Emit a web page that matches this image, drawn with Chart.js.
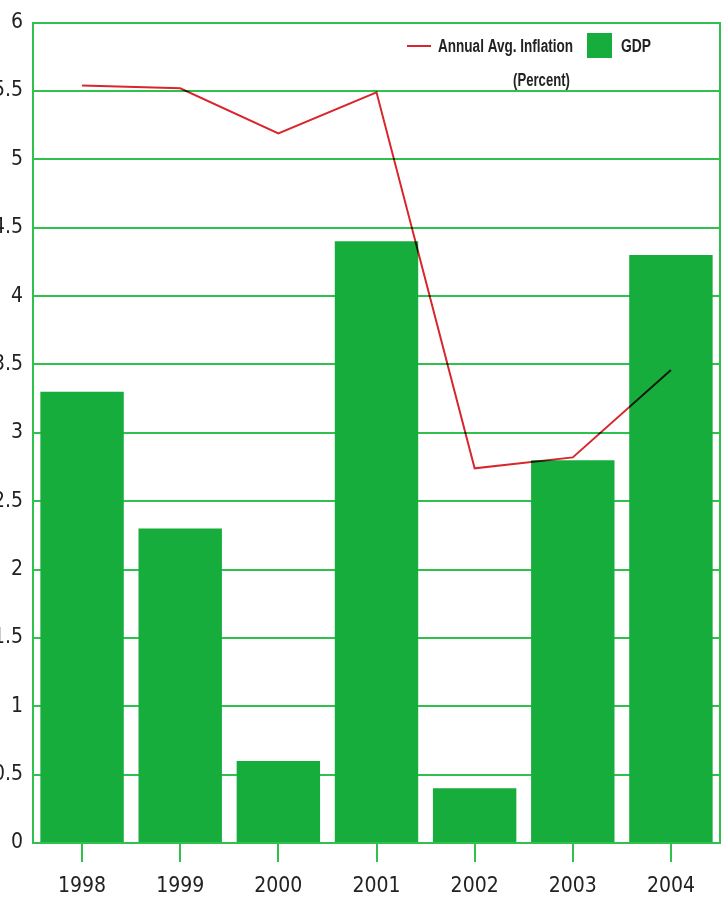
<!DOCTYPE html>
<html>
<head>
<meta charset="utf-8">
<script src="https://cdn.jsdelivr.net/npm/chart.js@4/dist/chart.umd.min.js"></script>
<style>
  html, body { margin: 0; padding: 0; background: #ffffff; }
  #wrap { width: 726px; height: 920px; }
</style>
</head>
<body>
<div id="wrap"><canvas id="c" width="726" height="920"></canvas></div>
<script>
const categories = ['1998', '1999', '2000', '2001', '2002', '2003', '2004'];
const gdpValues = [3.3, 2.3, 0.6, 4.4, 0.4, 2.8, 4.3];
const inflationValues = [5.54, 5.52, 5.19, 5.49, 2.74, 2.82, 3.46];
const inflationLabel = ['Annual Avg. Inflation', '(Percent)'];
const gdpLabel = 'GDP';

const BAR = '#16ad3d';
const GRID = '#2fc14b';
const RED = '#d8262c';
const FONT = "'DejaVu Sans Condensed', 'Liberation Sans Narrow', 'Liberation Sans', Arial, sans-serif";
const LFONT = "'Liberation Sans', Arial, sans-serif";

const multiplyLine = {
  id: 'multiplyLine',
  beforeDatasetDraw(chart, args) {
    if (args.index === 0) { chart.ctx.save(); chart.ctx.globalCompositeOperation = 'multiply'; }
  },
  afterDatasetDraw(chart, args) {
    if (args.index === 0) { chart.ctx.restore(); }
  }
};

function narrowText(ctx, text, x, y, targetWidth) {
  const w = ctx.measureText(text).width;
  const s = targetWidth / w;
  ctx.save();
  ctx.translate(x, y);
  ctx.scale(s, 1);
  ctx.fillText(text, 0, 0);
  ctx.restore();
}

const customLegend = {
  id: 'customLegend',
  afterDraw(chart) {
    const ctx = chart.ctx;
    ctx.save();
    ctx.font = "bold 18px " + LFONT;
    ctx.textBaseline = 'middle';
    ctx.textAlign = 'left';
    ctx.strokeStyle = RED;
    ctx.lineWidth = 2;
    ctx.beginPath();
    ctx.moveTo(407, 46);
    ctx.lineTo(431, 46);
    ctx.stroke();
    ctx.fillStyle = '#222222';
    narrowText(ctx, inflationLabel[0], 438, 47, 135);
    narrowText(ctx, inflationLabel[1], 513, 81, 57);
    ctx.fillStyle = BAR;
    ctx.fillRect(587, 33, 25, 25);
    ctx.fillStyle = '#222222';
    narrowText(ctx, gdpLabel, 621, 47, 30);
    ctx.restore();
  }
};

new Chart(document.getElementById('c'), {
  data: {
    labels: categories,
    datasets: [
      {
        type: 'line',
        label: inflationLabel.join(' '),
        data: inflationValues,
        borderColor: RED,
        borderWidth: 2,
        pointRadius: 0,
        tension: 0,
        fill: false,
        order: 0
      },
      {
        type: 'bar',
        label: gdpLabel,
        data: gdpValues,
        backgroundColor: BAR,
        borderWidth: 0,
        categoryPercentage: 1.0,
        barPercentage: 0.85,
        order: 1
      }
    ]
  },
  options: {
    responsive: false,
    animation: false,
    devicePixelRatio: 1,
    layout: { padding: { top: 22, right: 6, left: 0, bottom: 0 } },
    plugins: { legend: { display: false }, tooltip: { enabled: false } },
    scales: {
      x: {
        offset: true,
        grid: { display: true, drawOnChartArea: false, drawTicks: true, tickLength: 19, offset: false, color: GRID, lineWidth: 2 },
        border: { display: true, color: GRID, width: 2 },
        ticks: { color: '#222222', font: { family: FONT, size: 21 }, padding: 12, maxRotation: 0 },
        afterFit(scale) { scale.height = 77; }
      },
      y: {
        min: 0,
        max: 6,
        ticks: { stepSize: 0.5, color: '#222222', font: { family: FONT, size: 21 }, padding: 10,
                 callback: (v) => String(v) },
        grid: { color: GRID, lineWidth: 2, drawTicks: false },
        border: { display: true, color: GRID, width: 2 },
        afterFit(scale) { scale.width = 33; }
      },
      y2: {
        position: 'right',
        min: 0,
        max: 6,
        ticks: { display: false },
        grid: { drawOnChartArea: false, drawTicks: false },
        border: { display: true, color: GRID, width: 2 },
        afterFit(scale) { scale.width = 0; }
      }
    }
  },
  plugins: [multiplyLine, customLegend]
});
</script>
</body>
</html>
